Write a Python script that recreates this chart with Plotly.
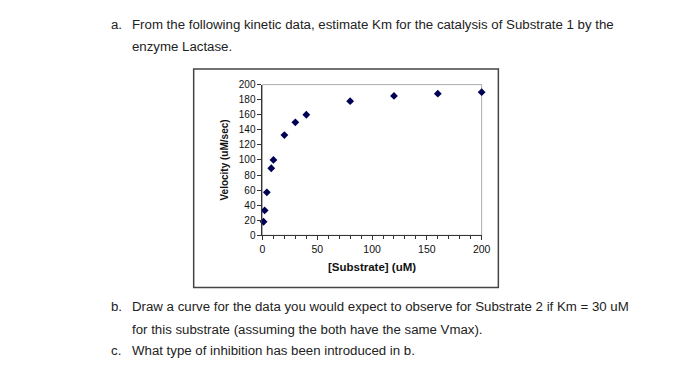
import plotly.graph_objects as go

# Data
substrate = [1, 2, 4, 8, 10, 20, 30, 40, 80, 120, 160, 200]
velocity = [18, 33, 57, 89, 100, 133, 150, 160, 178, 185, 188, 190]

x_tick_vals = [0, 50, 100, 150, 200]
y_tick_vals = [0, 20, 40, 60, 80, 100, 120, 140, 160, 180, 200]

question_a = ["From the following kinetic data, estimate Km for the catalysis of Substrate 1 by the",
              "enzyme Lactase."]
question_b = ["Draw a curve for the data you would expect to observe for Substrate 2 if Km = 30 uM",
              "for this substrate (assuming the both have the same Vmax)."]
question_c = ["What type of inhibition has been introduced in b."]

W, H = 700, 372
def px(x):
    return x / W
def py(y):
    return 1 - y / H

fig = go.Figure()
fig.add_trace(go.Scatter(
    x=substrate, y=velocity, mode="markers",
    marker=dict(symbol="diamond", size=6, color="#000055"),
    showlegend=False, cliponaxis=False,
))

FONT = "Liberation Sans, Arial, sans-serif"
TXT = "#222222"

annotations = []
def add_text(x, y, text, size=13.25):
    annotations.append(dict(x=px(x), y=py(y), xref="paper", yref="paper",
                            text=text, showarrow=False, xanchor="left", yanchor="middle",
                            font=dict(family=FONT, size=size, color=TXT)))

add_text(108, 19, "a.")
add_text(129, 19, question_a[0])
add_text(129, 42, question_a[1])
add_text(108, 310, "b.")
add_text(129, 310, question_b[0])
add_text(129, 333, question_b[1])
add_text(108, 355, "c.")
add_text(129, 355, question_c[0])

shapes = [
    # outer chart frame
    dict(type="rect", xref="paper", yref="paper",
         x0=px(194), x1=px(504), y0=py(290), y1=py(65),
         line=dict(color="#444444", width=1.5), layer="below"),
    # plot area border
    dict(type="rect", xref="paper", yref="paper",
         x0=px(264), x1=px(487), y0=py(236.3), y1=py(81),
         line=dict(color="#aaaaaa", width=1), layer="below"),
]

fig.update_layout(
    width=W, height=H,
    margin=dict(l=0, r=0, t=0, b=0),
    paper_bgcolor="white", plot_bgcolor="white",
    annotations=annotations, shapes=shapes,
    xaxis=dict(domain=[px(264), px(487)], range=[0, 200],
               tickmode="array", tickvals=x_tick_vals,
               ticks="outside", ticklen=4, tickcolor="#333",
               minor=dict(dtick=10, ticks="outside", ticklen=3, tickcolor="#333"),
               showline=True, linecolor="#333", linewidth=1,
               showgrid=False, zeroline=False,
               tickfont=dict(family=FONT, size=10.5, color="#111"),
               title=dict(text="<b>[Substrate] (uM)</b>", standoff=9,
                          font=dict(family=FONT, size=11.5, color="#111"))),
    yaxis=dict(domain=[py(236.3), py(81)], range=[0, 200],
               tickmode="array", tickvals=y_tick_vals,
               ticks="outside", ticklen=4, tickcolor="#333",
               showline=True, linecolor="#333", linewidth=1,
               showgrid=False, zeroline=False,
               tickfont=dict(family=FONT, size=10, color="#111"),
               title=dict(text="<b>Velocity (uM/sec)</b>", standoff=8,
                          font=dict(family=FONT, size=10, color="#111"))),
)

fig.write_html("out.html", config={"displayModeBar": False},
               post_script="document.body.style.margin='0';document.body.style.padding='0';")
